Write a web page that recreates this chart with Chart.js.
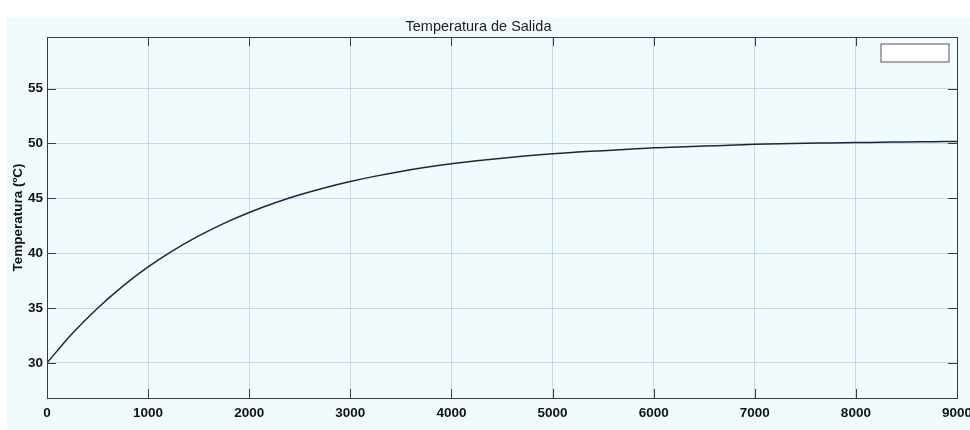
<!DOCTYPE html>
<html>
<head>
<meta charset="utf-8">
<script src="https://cdn.jsdelivr.net/npm/chart.js@4"></script>
<style>
  html, body { margin: 0; padding: 0; background: #ffffff; }
  #wrap { width: 970px; height: 430px; }
</style>
</head>
<body>
<div id="wrap"><canvas id="grafico" width="970" height="430"></canvas></div>
<script>
// tiempo (s) y temperatura de salida (ºC)
const tiempo = [0, 250, 500, 750, 1000, 1250, 1500, 1750, 2000, 2250, 2500, 2750,
  3000, 3250, 3500, 3750, 4000, 4250, 4500, 4750, 5000, 5250, 5500, 5750,
  6000, 6250, 6500, 6750, 7000, 7250, 7500, 7750, 8000, 8250, 8500, 8750, 9000];
const temperatura = [30.0, 32.67, 34.98, 36.99, 38.74, 40.25, 41.57, 42.72, 43.71, 44.57, 45.32, 45.97,
  46.53, 47.02, 47.45, 47.82, 48.14, 48.42, 48.66, 48.87, 49.05, 49.21, 49.34, 49.47,
  49.6, 49.68, 49.76, 49.84, 49.92, 49.97, 50.01, 50.05, 50.08, 50.11, 50.14, 50.16, 50.18];
const ticksX = [0, 1000, 2000, 3000, 4000, 5000, 6000, 7000, 8000, 9000];
const ticksY = [30, 35, 40, 45, 50, 55];

const fuente = "'Liberation Sans', Arial, sans-serif";
const fondo = "#f1fbfe";

// fondo de la figura, caja de ejes, marcas hacia dentro y leyenda vacia
const marcoMatlab = {
  id: "marcoMatlab",
  beforeDraw(chart) {
    const ctx = chart.ctx;
    ctx.save();
    ctx.fillStyle = fondo;
    ctx.fillRect(7, 17, chart.width - 7, chart.height - 17);
    ctx.restore();
  },
  afterDatasetsDraw(chart) {
    const ctx = chart.ctx;
    const a = chart.chartArea;
    const sx = chart.scales.x;
    const sy = chart.scales.y;
    const largo = 9;
    ctx.save();
    ctx.strokeStyle = "#3a3a3a";
    ctx.lineWidth = 1;
    ctx.beginPath();
    ticksX.forEach(function (v) {
      const px = Math.round(sx.getPixelForValue(v)) + 0.5;
      ctx.moveTo(px, a.bottom);
      ctx.lineTo(px, a.bottom - largo);
      ctx.moveTo(px, a.top);
      ctx.lineTo(px, a.top + largo);
    });
    ticksY.forEach(function (v) {
      const py = Math.round(sy.getPixelForValue(v)) + 0.5;
      ctx.moveTo(a.left, py);
      ctx.lineTo(a.left + largo, py);
      ctx.moveTo(a.right, py);
      ctx.lineTo(a.right - largo, py);
    });
    ctx.stroke();
    ctx.strokeRect(Math.round(a.left) + 0.5, Math.round(a.top) + 0.5,
      Math.round(a.right - a.left), Math.round(a.bottom - a.top));
    // leyenda sin texto
    ctx.fillStyle = "#ffffff";
    ctx.strokeStyle = "#707070";
    ctx.lineWidth = 1.2;
    ctx.fillRect(a.right - 76, a.top + 7, 68, 18);
    ctx.strokeRect(a.right - 76, a.top + 7, 68, 18);
    ctx.restore();
  },
};

new Chart(document.getElementById("grafico"), {
  type: "line",
  data: {
    datasets: [
      {
        data: tiempo.map(function (t, i) { return { x: t, y: temperatura[i] }; }),
        borderColor: "#1b2640",
        borderWidth: 1.5,
        pointRadius: 0,
        tension: 0.3,
        fill: false,
      },
    ],
  },
  options: {
    responsive: false,
    animation: false,
    layout: { padding: { top: 17, right: 13, bottom: 0, left: 0 } },
    plugins: {
      legend: { display: false },
      tooltip: { enabled: false },
      title: {
        display: true,
        text: "Temperatura de Salida",
        color: "#1e1e1e",
        font: { family: fuente, size: 14.5, weight: "normal", lineHeight: 1.2 },
        padding: { top: 1, bottom: 1.6 },
      },
    },
    scales: {
      x: {
        type: "linear",
        min: 0,
        max: 9000,
        afterBuildTicks(scale) {
          scale.ticks = ticksX.map(function (v) { return { value: v }; });
        },
        afterFit(scale) {
          scale.height = 32;
          scale.paddingLeft = 0;
          scale.paddingRight = 0;
        },
        ticks: {
          color: "#111",
          font: { family: fuente, size: 13.5, weight: "bold" },
          padding: 7,
          maxRotation: 0,
          autoSkip: false,
          callback: function (v) { return String(v); },
        },
        grid: { color: "rgba(160,190,225,0.55)", drawTicks: false },
        border: { display: false },
      },
      y: {
        min: 26.8,
        max: 59.7,
        afterBuildTicks(scale) {
          scale.ticks = ticksY.map(function (v) { return { value: v }; });
        },
        afterFit(scale) {
          scale.width = 47;
          scale.paddingTop = 0;
          scale.paddingBottom = 0;
        },
        ticks: {
          color: "#111",
          font: { family: fuente, size: 13.5, weight: "bold" },
          padding: 4,
          autoSkip: false,
          callback: function (v) { return String(v); },
        },
        title: {
          display: true,
          text: "Temperatura (ºC)",
          color: "#111",
          font: { family: fuente, size: 13.5, weight: "bold", lineHeight: 1.2 },
          padding: { top: 10, bottom: 0 },
        },
        grid: { color: "rgba(160,190,225,0.55)", drawTicks: false },
        border: { display: false },
      },
    },
  },
  plugins: [marcoMatlab],
});
</script>
</body>
</html>
